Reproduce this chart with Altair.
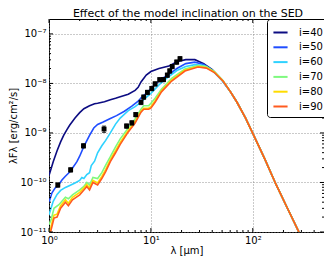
import altair as alt
import pandas as pd

title_text = "Effect of the model inclination on the SED"
models = ["i=40", "i=50", "i=60", "i=70", "i=80", "i=90"]
colors = ["#0c0c82", "#1f4dff", "#2fd2ff", "#7ef97e", "#ffdc00", "#ff5a1f"]

# model SEDs (wavelength in micron, lambda*F_lambda in erg/cm2/s)
wl_40 = [1.0, 1.1, 1.2, 1.3, 1.4, 1.5, 1.6, 1.8, 2.0, 2.2, 2.5, 2.8, 3.0, 3.5, 4.0, 4.5, 5, 6, 7, 7.5, 8, 9, 10, 12, 15, 18, 22, 27, 33, 40, 50, 60]
f_40 = [1.38e-10, 2.63e-10, 4.37e-10, 6.61e-10, 9.12e-10, 1.17e-9, 1.45e-9, 2.00e-9, 2.57e-9, 3.09e-9, 3.55e-9, 3.89e-9, 3.98e-9, 4.27e-9, 4.68e-9, 5.01e-9, 5.37e-9, 6.03e-9, 7.24e-9, 8.32e-9, 1.07e-8, 1.48e-8, 1.74e-8, 2.00e-8, 2.24e-8, 2.75e-8, 3.02e-8, 3.02e-8, 2.51e-8, 1.91e-8, 1.17e-8, 6.92e-9]

wl_50 = [1.0, 1.07, 1.15, 1.24, 1.34, 1.44, 1.56, 1.65, 1.88, 2.0, 2.2, 2.5, 2.75, 3.0, 3.4, 4.0, 4.6, 5.5, 6.5, 7.5, 8.1, 9.5, 10.2, 12.7, 15, 18, 22, 27, 33, 40, 50, 60]
f_50 = [3.98e-11, 6.17e-11, 7.76e-11, 8.91e-11, 1.12e-10, 1.32e-10, 1.55e-10, 1.78e-10, 2.63e-10, 3.39e-10, 5.37e-10, 8.91e-10, 1.26e-9, 1.48e-9, 1.66e-9, 1.95e-9, 2.24e-9, 2.75e-9, 3.47e-9, 4.37e-9, 5.25e-9, 6.92e-9, 8.32e-9, 1.23e-8, 1.51e-8, 2.00e-8, 2.51e-8, 2.69e-8, 2.40e-8, 1.86e-8, 1.15e-8, 6.92e-9]

wl_60 = [1.0, 1.1, 1.2, 1.3, 1.45, 1.6, 1.8, 2.0, 2.1, 2.2, 2.35, 2.5, 2.6, 2.8, 3.0, 3.3, 3.6, 4.0, 4.5, 5.0, 6.0, 7.0, 8.0, 9.0, 10, 12, 15, 18, 22, 27, 33, 40, 50, 60]
f_60 = [2.24e-11, 4.17e-11, 5.75e-11, 6.92e-11, 7.94e-11, 8.71e-11, 9.77e-11, 1.10e-10, 1.26e-10, 1.20e-10, 1.45e-10, 1.58e-10, 2.19e-10, 2.69e-10, 3.98e-10, 5.50e-10, 7.08e-10, 1.00e-9, 1.51e-9, 2.00e-9, 2.82e-9, 3.39e-9, 4.17e-9, 5.25e-9, 6.31e-9, 9.33e-9, 1.38e-8, 1.82e-8, 2.19e-8, 2.40e-8, 2.29e-8, 1.82e-8, 1.15e-8, 6.92e-9]

wl_70 = [1.0, 1.05, 1.12, 1.25, 1.45, 1.55, 1.7, 2.0, 2.2, 2.35, 2.5, 2.7, 3.0, 3.3, 3.6, 4.0, 4.5, 5.0, 6.0, 7.0, 8.0, 8.5, 9.5, 10, 11, 12.7, 16, 21.6, 29, 35, 42, 51, 60]
f_70 = [1.41e-11, 1.78e-11, 3.02e-11, 3.55e-11, 5.01e-11, 4.68e-11, 5.62e-11, 7.08e-11, 8.32e-11, 1.00e-10, 8.91e-11, 1.26e-10, 1.20e-10, 1.58e-10, 2.24e-10, 3.31e-10, 5.25e-10, 7.59e-10, 1.26e-9, 1.91e-9, 3.02e-9, 3.55e-9, 3.55e-9, 3.98e-9, 5.01e-9, 7.59e-9, 1.26e-8, 1.95e-8, 2.29e-8, 2.19e-8, 1.74e-8, 1.15e-8, 6.92e-9]

wl_80 = [1.0, 1.05, 1.12, 1.2, 1.3, 1.45, 1.55, 1.7, 2.0, 2.2, 2.35, 2.5, 2.7, 3.0, 3.3, 3.6, 4.0, 4.5, 5.0, 6.0, 7.0, 8.0, 8.5, 9.5, 10, 11, 12.7, 16, 21.6, 29, 35, 42, 51, 60]
f_80 = [8.32e-12, 1.32e-11, 2.19e-11, 2.29e-11, 3.39e-11, 4.47e-11, 3.80e-11, 5.01e-11, 6.31e-11, 7.76e-11, 9.12e-11, 7.76e-11, 1.10e-10, 9.77e-11, 1.32e-10, 1.82e-10, 2.88e-10, 4.37e-10, 6.46e-10, 1.12e-9, 1.70e-9, 2.75e-9, 3.16e-9, 3.16e-9, 3.39e-9, 4.47e-9, 7.08e-9, 1.17e-8, 1.86e-8, 2.19e-8, 2.09e-8, 1.70e-8, 1.12e-8, 6.92e-9]

wl_90 = [1.0, 1.05, 1.12, 1.2, 1.3, 1.45, 1.55, 1.7, 2.0, 2.2, 2.35, 2.5, 2.7, 3.0, 3.3, 3.6, 4.0, 4.5, 5.0, 6.0, 7.0, 8.0, 8.5, 9.5, 10, 11, 12.7, 16, 21.6, 29, 35, 42, 51, 60]
f_90 = [7.08e-12, 1.12e-11, 1.91e-11, 2.00e-11, 3.02e-11, 3.98e-11, 3.39e-11, 4.47e-11, 5.62e-11, 7.08e-11, 8.32e-11, 7.08e-11, 1.00e-10, 8.91e-11, 1.20e-10, 1.66e-10, 2.63e-10, 3.98e-10, 5.89e-10, 1.05e-9, 1.58e-9, 2.63e-9, 3.02e-9, 3.02e-9, 3.16e-9, 4.17e-9, 6.76e-9, 1.12e-8, 1.78e-8, 2.14e-8, 2.04e-8, 1.66e-8, 1.12e-8, 6.92e-9]

# far-IR tail common to all inclinations
tail_wl = [70, 85, 100, 130, 170, 220, 280, 320]
tail_f = [4.17e-9, 2.00e-9, 9.77e-10, 3.09e-10, 8.91e-11, 2.95e-11, 1.05e-11, 5.62e-12]

# observed photometry
obs_wl = [1.22, 1.63, 2.18, 3.47, 5.77, 6.5, 7.1, 8.0, 8.5, 9.25, 10.2, 11.0, 12.2, 13.3, 14.5, 15.3, 16.2, 17.9, 19.3]
obs_f = [8.9e-11, 1.8e-10, 5.5e-10, 1.2e-9, 1.38e-9, 1.6e-9, 2.35e-9, 4.15e-9, 5.3e-9, 6.6e-9, 7.9e-9, 9.8e-9, 1.19e-8, 1.2e-8, 1.47e-8, 1.79e-8, 2.2e-8, 2.7e-8, 3.16e-8]
obs_rel_err = [0.1, 0.1, 0.1, 0.15, 0.1, 0.1, 0.1, 0.1, 0.1, 0.1, 0.1, 0.1, 0.1, 0.1, 0.1, 0.1, 0.1, 0.1, 0.1]

x_major = [1, 10, 100]
x_minor = [2, 3, 4, 5, 6, 7, 8, 9, 20, 30, 40, 50, 60, 70, 80, 90, 200, 300, 400]
y_major = [1e-11, 1e-10, 1e-9, 1e-8, 1e-7]
y_minor = [2e-11, 3e-11, 4e-11, 5e-11, 6e-11, 7e-11, 8e-11, 9e-11,
           2e-10, 3e-10, 4e-10, 5e-10, 6e-10, 7e-10, 8e-10, 9e-10,
           2e-9, 3e-9, 4e-9, 5e-9, 6e-9, 7e-9, 8e-9, 9e-9,
           2e-8, 3e-8, 4e-8, 5e-8, 6e-8, 7e-8, 8e-8, 9e-8]

W, H = 275, 213
FONT = "DejaVu Sans"

series = [(wl_40, f_40), (wl_50, f_50), (wl_60, f_60), (wl_70, f_70), (wl_80, f_80), (wl_90, f_90)]

SUP = {"0": "\u2070", "1": "\u00b9", "2": "\u00b2", "3": "\u00b3", "4": "\u2074", "5": "\u2075",
       "6": "\u2076", "7": "\u2077", "8": "\u2078", "9": "\u2079", "-": "\u207b"}


def label_expr(exps):
    e = "round(log(datum.value)/LN10)"
    chain = "''"
    for k in exps:
        s = "".join(SUP[c] for c in str(k))
        chain = f"({e} == {k} ? '10{s}' : {chain})"
    return chain


xs = alt.Scale(type="log", domain=[1, 500], nice=False)
ys = alt.Scale(type="log", domain=[1e-11, 2e-7], nice=False)
x_axis = alt.Axis(values=x_major, labelExpr=label_expr([0, 1, 2]), title="\u03bb [\u03bcm]",
                  grid=True, ticks=False, tickSize=0, domain=False, labelPadding=3, titlePadding=0,
                  labelFlush=False)
y_axis = alt.Axis(values=y_major, labelExpr=label_expr([-11, -10, -9, -8, -7]),
                  title="\u03bbF\u03bb [erg/cm\u00b2/s]", grid=True, ticks=False, tickSize=0,
                  domain=False, labelPadding=3, titlePadding=1, labelFlush=False)

color = alt.Color("model:N", scale=alt.Scale(domain=models, range=colors),
                  legend=alt.Legend(orient="none", legendX=218, legendY=0, title=None,
                                    symbolType="stroke", symbolSize=200, symbolStrokeWidth=2,
                                    labelFont=FONT, labelFontSize=10, labelColor="black",
                                    fillColor="white", strokeColor="black", padding=5,
                                    cornerRadius=3, rowPadding=0.8, labelOffset=10))

layers = []
for name, (wl, fl) in zip(models, series):
    df = pd.DataFrame({"wl": wl + tail_wl, "flux": fl + tail_f, "model": name})
    layers.append(
        alt.Chart(df).mark_line(strokeWidth=1.6, clip=True).encode(
            x=alt.X("wl:Q", scale=xs, axis=x_axis),
            y=alt.Y("flux:Q", scale=ys, axis=y_axis),
            color=color,
        )
    )

obs = pd.DataFrame({"wl": obs_wl, "flux": obs_f, "err": obs_rel_err})
obs["lo"] = obs["flux"] * (1 - obs["err"])
obs["hi"] = obs["flux"] * (1 + obs["err"])

err_rule = alt.Chart(obs).mark_rule(color="black", strokeWidth=1).encode(
    x=alt.X("wl:Q", scale=xs, axis=x_axis),
    y=alt.Y("lo:Q", scale=ys, axis=y_axis),
    y2="hi:Q",
)
cap_lo = alt.Chart(obs).mark_tick(color="black", orient="horizontal", size=4, thickness=1).encode(
    x=alt.X("wl:Q", scale=xs, axis=x_axis),
    y=alt.Y("lo:Q", scale=ys, axis=y_axis),
)
cap_hi = alt.Chart(obs).mark_tick(color="black", orient="horizontal", size=4, thickness=1).encode(
    x=alt.X("wl:Q", scale=xs, axis=x_axis),
    y=alt.Y("hi:Q", scale=ys, axis=y_axis),
)
pts = alt.Chart(obs).mark_square(color="black", opacity=1, size=24).encode(
    x=alt.X("wl:Q", scale=xs, axis=x_axis),
    y=alt.Y("flux:Q", scale=ys, axis=y_axis),
)

# inward tick marks on all four sides
xt = pd.DataFrame({"wl": x_major + x_minor, "len": [4] * len(x_major) + [2] * len(x_minor)})
yt = pd.DataFrame({"flux": y_major + y_minor, "len": [4] * len(y_major) + [2] * len(y_minor)})
tick_layers = []
for sub, ln in [(xt[xt["len"] == 4], 4), (xt[xt["len"] == 2], 2)]:
    tick_layers.append(alt.Chart(sub).mark_rule(color="black", strokeWidth=1).encode(
        x=alt.X("wl:Q", scale=xs, axis=x_axis), y=alt.value(H), y2=alt.value(H - ln)))
    tick_layers.append(alt.Chart(sub).mark_rule(color="black", strokeWidth=1).encode(
        x=alt.X("wl:Q", scale=xs, axis=x_axis), y=alt.value(0), y2=alt.value(ln)))
for sub, ln in [(yt[yt["len"] == 4], 4), (yt[yt["len"] == 2], 2)]:
    tick_layers.append(alt.Chart(sub).mark_rule(color="black", strokeWidth=1).encode(
        y=alt.Y("flux:Q", scale=ys, axis=y_axis), x=alt.value(0), x2=alt.value(ln)))
    tick_layers.append(alt.Chart(sub).mark_rule(color="black", strokeWidth=1).encode(
        y=alt.Y("flux:Q", scale=ys, axis=y_axis), x=alt.value(W), x2=alt.value(W - ln)))

# chart title drawn as text just above the plot frame
title_layer = alt.Chart(pd.DataFrame({"t": [title_text]})).mark_text(
    font=FONT, fontSize=11, color="black", align="center", baseline="alphabetic"
).encode(text="t:N", x=alt.value(139), y=alt.value(-2))

chart = alt.layer(*layers, err_rule, cap_lo, cap_hi, pts, *tick_layers, title_layer).properties(
    width=W, height=H,
    padding={"left": 41, "top": 11, "right": 0, "bottom": 24},
    autosize=alt.AutoSizeParams(type="none"),
).configure_view(stroke="black", strokeWidth=1).configure_axis(
    labelFont=FONT, labelFontSize=10, labelColor="black",
    titleFont=FONT, titleFontSize=10, titleFontWeight="normal", titleColor="black",
    gridColor="#7a7a7a", gridDash=[1, 2], gridWidth=0.8,
)

chart.save("out.html", embed_options={"renderer": "svg", "actions": False})
